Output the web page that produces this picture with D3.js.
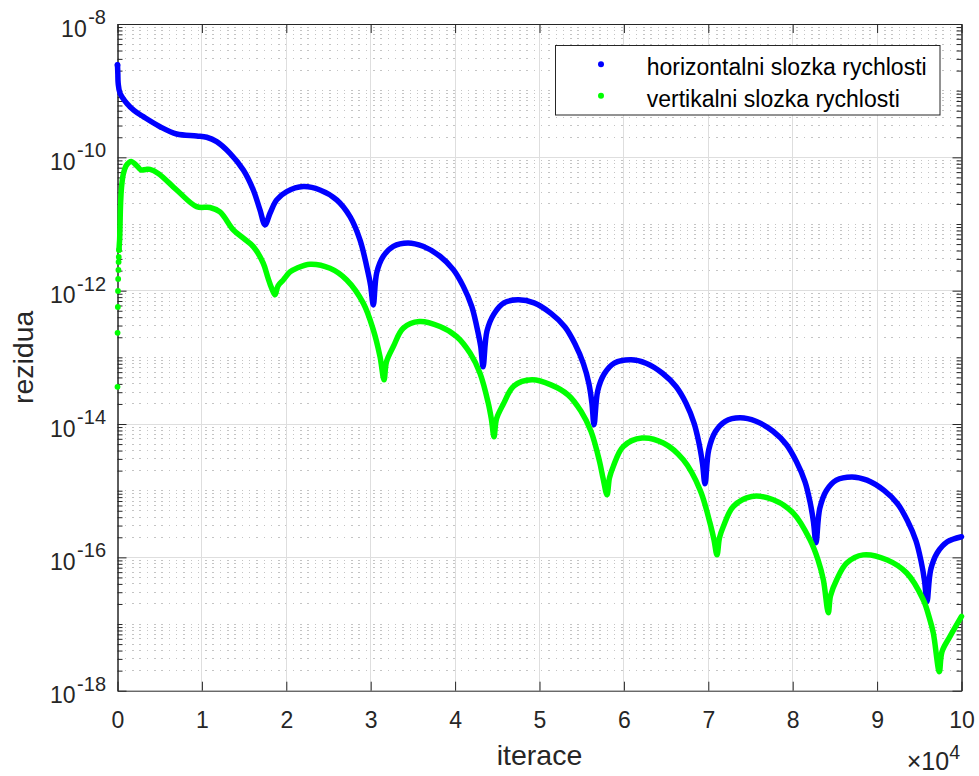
<!DOCTYPE html>
<html><head><meta charset="utf-8">
<script src="https://cdn.jsdelivr.net/npm/d3@7"></script>
<style>
body{margin:0;background:#fff;}
svg{display:block;font-family:"Liberation Sans",Arial,Helvetica,sans-serif;}
</style></head><body>
<svg id="chart" width="979" height="776"></svg>
<script>
// ---------- data (iterations in units of 10^4, residual values) ----------
const blueX = [0, 0.004, 0.008, 0.030, 0.109, 0.195, 0.306, 0.504, 0.701, 0.938, 1.057, 1.175, 1.333, 1.491, 1.609, 1.688, 1.748,
  1.807, 1.886, 2.005, 2.201, 2.399, 2.597, 2.755, 2.873, 2.953, 2.998, 3.031,
  3.071, 3.149, 3.268, 3.442, 3.620, 3.821, 3.979, 4.097, 4.197, 4.256, 4.303, 4.331,
  4.378, 4.461, 4.579, 4.745, 4.935, 5.136, 5.302, 5.421, 5.521, 5.586, 5.622, 5.646,
  5.690, 5.768, 5.886, 6.084, 6.262, 6.457, 6.617, 6.736, 6.831, 6.890, 6.931, 6.961,
  7.005, 7.083, 7.201, 7.376, 7.565, 7.767, 7.927, 8.045, 8.146, 8.205, 8.246, 8.276,
  8.320, 8.398, 8.517, 8.703, 8.880, 9.082, 9.242, 9.360, 9.461, 9.520, 9.562, 9.591,
  9.635, 9.713, 9.832, 10.0];
const blueY = [2.43e-9, 1.78e-9, 1.29e-9, 9.14e-10, 6.47e-10, 5.05e-10, 4.07e-10, 2.88e-10, 2.24e-10, 2.09e-10, 2.00e-10, 1.72e-10, 1.15e-10, 6.47e-11, 3.24e-11, 1.63e-11, 9.70e-12,
  1.45e-11, 2.30e-11, 3.06e-11, 3.64e-11, 3.24e-11, 2.30e-11, 1.29e-11, 5.78e-12, 2.30e-12, 1.22e-12, 6.12e-13,
  1.85e-12, 3.28e-12, 4.63e-12, 5.21e-12, 4.63e-12, 3.28e-12, 2.07e-12, 1.16e-12, 5.83e-13, 2.92e-13, 1.47e-13, 7.21e-14,
  2.49e-13, 4.49e-13, 6.56e-13, 7.28e-13, 6.56e-13, 4.57e-13, 2.86e-13, 1.59e-13, 8.0e-14, 4.01e-14, 2.01e-14, 9.73e-15,
  3.15e-14, 5.66e-14, 8.17e-14, 9.18e-14, 8.17e-14, 5.78e-14, 3.65e-14, 2.05e-14, 1.03e-14, 5.15e-15, 2.58e-15, 1.27e-15,
  4.10e-15, 7.64e-15, 1.10e-14, 1.24e-14, 1.10e-14, 7.78e-15, 4.88e-15, 2.71e-15, 1.36e-15, 6.82e-16, 3.42e-16, 1.66e-16,
  5.36e-16, 1.0e-15, 1.44e-15, 1.61e-15, 1.44e-15, 1.01e-15, 6.37e-16, 3.54e-16, 1.77e-16, 8.89e-17, 4.46e-17, 2.16e-17,
  6.52e-17, 1.17e-16, 1.71e-16, 2.04e-16];

const greenX = [0, 0.001, 0.004, 0.006, 0.008, 0.011, 0.013, 0.015, 0.018,
  0.021, 0.025, 0.030, 0.036, 0.047, 0.069, 0.101, 0.136, 0.168,
  0.231, 0.278, 0.338, 0.385, 0.483, 0.701, 0.938, 1.096, 1.214, 1.372, 1.491, 1.609, 1.727, 1.783, 1.825, 1.866,
  1.902, 1.964, 2.044, 2.123, 2.281, 2.518, 2.716, 2.912, 3.031, 3.110, 3.158,
  3.187, 3.268, 3.386, 3.576, 3.821, 4.019, 4.177, 4.295, 4.393, 4.431, 4.461,
  4.491, 4.573, 4.698, 4.911, 5.136, 5.338, 5.492, 5.610, 5.711, 5.752, 5.800,
  5.829, 5.874, 5.993, 6.214, 6.467, 6.704, 6.902, 7.020, 7.067, 7.103,
  7.133, 7.178, 7.296, 7.514, 7.770, 8.007, 8.205, 8.300, 8.363, 8.422,
  8.448, 8.521, 8.640, 8.836, 9.114, 9.351, 9.547, 9.615, 9.666, 9.737,
  9.769, 9.864, 10.0];
const greenY = [3.61e-14, 2.33e-13, 5.71e-13, 9.93e-13, 1.50e-12, 2.05e-12, 2.70e-12, 3.21e-12, 4.09e-12,
  4.86e-12, 5.78e-12, 9.70e-12, 1.93e-11, 3.48e-11, 5.64e-11, 7.43e-11, 8.39e-11, 8.63e-11,
  7.43e-11, 6.47e-11, 6.59e-11, 6.59e-11, 5.74e-11, 3.24e-11, 1.82e-11, 1.77e-11, 1.52e-11, 8.17e-12, 6.12e-12, 4.58e-12, 2.58e-12, 1.56e-12, 1.10e-12, 8.65e-13,
  1.18e-12, 1.45e-12, 1.91e-12, 2.17e-12, 2.49e-12, 2.17e-12, 1.45e-12, 6.50e-13, 2.58e-13, 1.03e-13, 4.60e-14,
  8.57e-14, 1.45e-13, 2.74e-13, 3.44e-13, 2.90e-13, 2.05e-13, 1.16e-13, 5.79e-14, 2.06e-14, 1.16e-14, 6.43e-15,
  1.20e-14, 2.01e-14, 3.74e-14, 4.60e-14, 3.87e-14, 2.74e-14, 1.55e-14, 7.78e-15, 2.76e-15, 1.56e-15, 8.69e-16,
  1.56e-15, 2.31e-15, 4.60e-15, 6.15e-15, 5.18e-15, 2.90e-15, 1.03e-15, 3.27e-16, 1.84e-16, 1.09e-16,
  1.97e-16, 2.90e-16, 5.79e-16, 8.19e-16, 7.31e-16, 4.61e-16, 1.84e-16, 9.20e-17, 4.61e-17, 1.48e-17,
  2.65e-17, 4.61e-17, 8.22e-17, 1.09e-16, 9.20e-17, 5.82e-17, 2.31e-17, 1.29e-17, 7.33e-18, 1.93e-18,
  3.85e-18, 6.52e-18, 1.30e-17];
// first samples of the vertical series are far apart (visible as separate markers)
const greenIsolatedCount = 9;

const seriesNames = ["horizontalni slozka rychlosti", "vertikalni slozka rychlosti"];
const seriesColors = ["#0000ff", "#00ff00"];
const xTicks = [0, 1, 2, 3, 4, 5, 6, 7, 8, 9, 10];
const xExponent = "4";
const yMajorTicks = [1e-18, 1e-16, 1e-14, 1e-12, 1e-10, 1e-8];
const yTickExponents = ["-18", "-16", "-14", "-12", "-10", "-8"];
const xLabel = "iterace";
const yLabel = "rezidua";

// ---------- layout ----------
const L = 117.5, R = 961.5, T = 24, B = 690.7;
const axisColor = "#262626";
const x = d3.scaleLinear().domain([0, 10]).range([L, R]);
const y = d3.scaleLog().domain([1e-18, 1e-8]).range([B, T]);

// minor positions on the log axis (2..9 of each decade and the unlabeled decades)
const yMinorTicks = [];
for (let e = -18; e < -8; e++) {
  for (let k = 1; k <= 9; k++) {
    if (k === 1 && (e % 2 === 0)) continue;
    yMinorTicks.push(+(k + "e" + e));
  }
}

const svg = d3.select("#chart");
svg.append("rect").attr("width", 979).attr("height", 776).attr("fill", "#fff");

// ---------- grid ----------
const grid = svg.append("g").attr("shape-rendering", "crispEdges");
grid.selectAll("line.ym").data(yMinorTicks).join("line").attr("class", "ym")
  .attr("x1", L).attr("x2", R).attr("y1", d => y(d)).attr("y2", d => y(d))
  .attr("stroke", "#c4c4c4").attr("stroke-width", 1).attr("stroke-dasharray", "1.5,5.8");
grid.selectAll("line.yM").data(yMajorTicks.slice(1, -1)).join("line").attr("class", "yM")
  .attr("x1", L).attr("x2", R).attr("y1", d => y(d)).attr("y2", d => y(d))
  .attr("stroke", "#dedede").attr("stroke-width", 1);
grid.selectAll("line.xM").data(xTicks.slice(1, -1)).join("line").attr("class", "xM")
  .attr("x1", d => x(d)).attr("x2", d => x(d)).attr("y1", T).attr("y2", B)
  .attr("stroke", "#dedede").attr("stroke-width", 1);

// ---------- axes ----------
function styleAxis(g) {
  g.attr("font-family", null).attr("font-size", null);
  g.selectAll("path.domain").attr("stroke", axisColor).attr("stroke-width", 1);
  g.selectAll(".tick line").attr("stroke", axisColor).attr("stroke-width", 1);
  g.selectAll(".tick text").attr("fill", axisColor);
}
const gB = svg.append("g").attr("transform", `translate(0,${B})`)
  .call(d3.axisBottom(x).tickValues(xTicks).tickSize(-9).tickSizeOuter(0).tickPadding(21).tickFormat(d3.format("d")));
styleAxis(gB);
gB.selectAll(".tick text").attr("font-size", 23);

const gT = svg.append("g").attr("transform", `translate(0,${T})`)
  .call(d3.axisTop(x).tickValues(xTicks).tickSize(-9).tickSizeOuter(0).tickFormat(""));
styleAxis(gT);

const gL = svg.append("g").attr("transform", `translate(${L},0)`)
  .call(d3.axisLeft(y).tickValues(yMajorTicks).tickSize(-9).tickSizeOuter(0).tickPadding(11.5).tickFormat(""));
styleAxis(gL);
gL.selectAll(".tick text").each(function (d, i) {
  const t = d3.select(this).attr("dy", null).attr("y", 12).attr("font-size", 23).text(null);
  t.append("tspan").text("10");
  t.append("tspan").attr("dx", 1.5).attr("dy", -12.5).attr("font-size", 20).text(yTickExponents[i]);
});
const gLm = svg.append("g").attr("transform", `translate(${L},0)`)
  .call(d3.axisLeft(y).tickValues(yMinorTicks).tickSize(-5).tickSizeOuter(0).tickFormat(""));
styleAxis(gLm);

const gR = svg.append("g").attr("transform", `translate(${R},0)`)
  .call(d3.axisRight(y).tickValues(yMajorTicks).tickSize(-9).tickSizeOuter(0).tickFormat(""));
styleAxis(gR);
const gRm = svg.append("g").attr("transform", `translate(${R},0)`)
  .call(d3.axisRight(y).tickValues(yMinorTicks).tickSize(-5).tickSizeOuter(0).tickFormat(""));
styleAxis(gRm);

// axis labels
svg.append("text").attr("x", (L + R) / 2).attr("y", 765).attr("text-anchor", "middle")
  .attr("font-size", 28.5).attr("fill", axisColor).text(xLabel);
svg.append("text").attr("transform", `translate(33,${(T + B) / 2}) rotate(-90)`).attr("text-anchor", "middle")
  .attr("font-size", 28.5).attr("fill", axisColor).text(yLabel);
const ex = svg.append("text").attr("x", 960).attr("y", 770).attr("text-anchor", "end")
  .attr("font-size", 25).attr("fill", axisColor);
ex.append("tspan").text("\u00d710");
ex.append("tspan").attr("dy", -11).attr("font-size", 19.5).text(xExponent);

// ---------- data ----------
const line = d3.line().x(d => x(d[0])).y(d => y(d[1])).curve(d3.curveCatmullRom.alpha(0.5));
const blue = blueX.map((v, i) => [v, blueY[i]]);
const green = greenX.map((v, i) => [v, greenY[i]]);
const dataG = svg.append("g");
dataG.append("path").attr("d", line(blue)).attr("fill", "none").attr("stroke", seriesColors[0])
  .attr("stroke-width", 5.5).attr("stroke-linecap", "round").attr("stroke-linejoin", "round");
dataG.selectAll("circle.b").data(blue.slice(0, 1)).join("circle").attr("class", "b")
  .attr("cx", d => x(d[0])).attr("cy", d => y(d[1])).attr("r", 2.9).attr("fill", seriesColors[0]);
dataG.append("path").attr("d", line(green.slice(greenIsolatedCount - 1))).attr("fill", "none").attr("stroke", seriesColors[1])
  .attr("stroke-width", 5.5).attr("stroke-linecap", "round").attr("stroke-linejoin", "round");
dataG.selectAll("circle.g").data(green.slice(0, greenIsolatedCount)).join("circle").attr("class", "g")
  .attr("cx", d => x(d[0])).attr("cy", d => y(d[1])).attr("r", 2.9).attr("fill", seriesColors[1]);

// ---------- legend ----------
const lg = svg.append("g");
lg.append("rect").attr("x", 555.5).attr("y", 45.5).attr("width", 384.5).attr("height", 69.5)
  .attr("fill", "#fff").attr("stroke", axisColor).attr("stroke-width", 1);
const rows = lg.selectAll("g.row").data(seriesNames).join("g").attr("class", "row")
  .attr("transform", (d, i) => `translate(0,${i * 31.5})`);
rows.append("circle").attr("cx", 601).attr("cy", 64.3).attr("r", 3).attr("fill", (d, i) => seriesColors[i]);
rows.append("text").attr("x", 646.7).attr("y", 75).attr("font-size", 23).attr("fill", "#000").text(d => d);
</script>
</body></html>
